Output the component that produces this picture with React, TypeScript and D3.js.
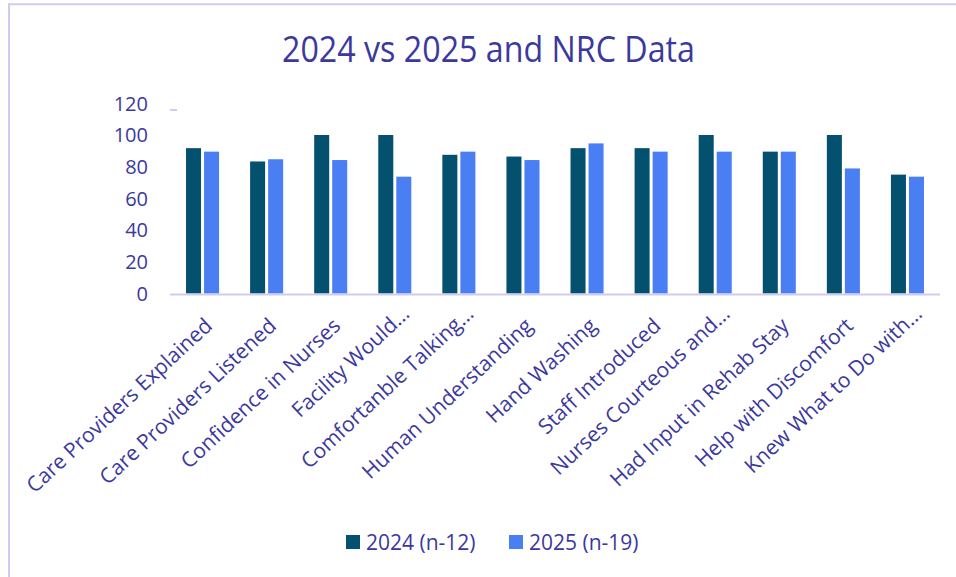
import React from "react";
import * as d3 from "d3";

const categories = [
  "Care Providers Explained",
  "Care Providers Listened",
  "Confidence in Nurses",
  "Facility Would…",
  "Comfortanble Talking…",
  "Human Understanding",
  "Hand Washing",
  "Staff Introduced",
  "Nurses Courteous and…",
  "Had Input in Rehab Stay",
  "Help with Discomfort",
  "Knew What to Do with…",
];
const seriesNames = ["2024 (n-12)", "2025 (n-19)"];
const values2024 = [91.7, 83.3, 100, 100, 87.5, 86.4, 91.7, 91.7, 100, 89.5, 100, 75];
const values2025 = [89.5, 84.7, 84.2, 73.7, 89.5, 84.2, 94.7, 89.5, 89.5, 89.5, 78.9, 73.7];
const yTicks = [0, 20, 40, 60, 80, 100, 120];
const title = "2024 vs 2025 and NRC Data";

const colors = ["#03506f", "#4a7ff4"];
const textColor = "#3b399e";
const lineColor = "#d0cbef";
const font = "'Open Sans', 'Noto Sans', sans-serif";

export default function App() {
  const W = 956;
  const H = 577;
  const x = d3.scaleBand<string>().domain(categories).range([170.5, 939.5]).padding(0);
  const step = x.step();
  const groupW = (33 / 64) * step;
  const xs = d3.scaleBand<string>().domain(seriesNames).range([0, groupW]).paddingInner(0.1667).paddingOuter(0);
  const y = d3.scaleLinear().domain([0, 120]).range([293.5, 103.3]);
  const series = [values2024, values2025];

  return (
    <svg
      width={W}
      height={H}
      style={{ position: "absolute", left: 0, top: 0, background: "#fff" }}
      fontFamily={font}
    >
      <rect x={0} y={0} width={W} height={H} fill="#fff" />
      {/* border */}
      <line x1={8} x2={W} y1={4.2} y2={4.2} stroke={lineColor} strokeWidth={2} />
      <line x1={9} x2={9} y1={3.2} y2={H} stroke={lineColor} strokeWidth={2} />

      <text
        x={488.5}
        y={62}
        textAnchor="middle"
        fontSize={37}
        fill={textColor}
        textLength={413}
        lengthAdjust="spacingAndGlyphs"
      >
        {title}
      </text>

      {/* y axis labels */}
      {yTicks.map((t) => (
        <text key={t} x={148} y={y(t)} dy="0.36em" textAnchor="end" fontSize={20} fill={textColor}>
          {t}
        </text>
      ))}
      <line x1={170} x2={177} y1={110} y2={110} stroke={lineColor} strokeWidth={2} />

      {/* bars */}
      {categories.map((c, i) => {
        const gx = (x(c) as number) + step / 2 - groupW / 2;
        return (
          <g key={c}>
            {seriesNames.map((s, k) => (
              <rect
                key={s}
                x={gx + (xs(s) as number)}
                y={y(series[k][i])}
                width={xs.bandwidth()}
                height={y(0) - y(series[k][i])}
                fill={colors[k]}
              />
            ))}
          </g>
        );
      })}

      {/* x axis line */}
      <line x1={170} x2={940} y1={294.4} y2={294.4} stroke={lineColor} strokeWidth={2} />

      {/* x labels */}
      {categories.map((c) => {
        const truncated = c.endsWith("…");
        const cx = (x(c) as number) + step / 2 + (truncated ? 11 : 6);
        const cy = truncated ? 310 : 322;
        return (
          <text
            key={c}
            x={cx}
            y={cy}
            dy="0.35em"
            textAnchor="end"
            fontSize={21}
            fill={textColor}
            transform={`rotate(-43, ${cx}, ${cy})`}
          >
            {c}
          </text>
        );
      })}

      {/* legend */}
      {seriesNames.map((s, k) => {
        const lx = k === 0 ? 346 : 509;
        return (
          <g key={s}>
            <rect x={lx} y={535} width={14} height={14} fill={colors[k]} />
            <text x={lx + 20} y={542} dy="0.36em" fontSize={21} fill={textColor}>
              {s}
            </text>
          </g>
        );
      })}
    </svg>
  );
}
